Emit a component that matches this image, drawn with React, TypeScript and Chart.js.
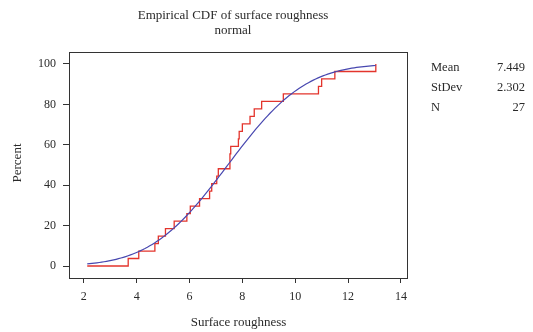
import React, { useEffect, useRef } from "react";
import { Chart, registerables } from "chart.js";

Chart.register(...registerables);

const titleLines = ["Empirical CDF of surface roughness", "normal"];
const xLabel = "Surface roughness";
const yLabel = "Percent";

// sorted sample values (read from the ECDF steps)
const roughness = [
  3.68, 4.08, 4.69, 4.82, 5.09, 5.42, 5.9, 6.03, 6.38, 6.76, 6.84, 7.03, 7.09,
  7.53, 7.53, 7.56, 7.85, 7.88, 8.0, 8.29, 8.45, 8.73, 9.55, 10.88, 11.0, 11.5, 13.05,
];
const rangeStart = 2.13;
const rangeEnd = 13.05;

const statNames = ["Mean", "StDev", "N"];
const statValues = ["7.449", "2.302", "27"];
const mean = 7.449;
const stdev = 2.302;

const xTicks = [2, 4, 6, 8, 10, 12, 14];
const yTicks = [0, 20, 40, 60, 80, 100];

const FONT = "'Liberation Serif', 'DejaVu Serif', serif";
const RED = "#e3342c";
const BLUE = "#4848b0";
const TEXT = "#2a2a2a";

function erf(x: number) {
  const s = x < 0 ? -1 : 1;
  x = Math.abs(x);
  const t = 1 / (1 + 0.3275911 * x);
  const y =
    1 -
    (((((1.061405429 * t - 1.453152027) * t) + 1.421413741) * t - 0.284496736) * t + 0.254829592) *
      t *
      Math.exp(-x * x);
  return s * y;
}

function normalCdf(x: number) {
  return 50 * (1 + erf((x - mean) / (stdev * Math.SQRT2)));
}

export default function App() {
  const ref = useRef<HTMLCanvasElement | null>(null);

  useEffect(() => {
    if (!ref.current) return;
    const n = roughness.length;
    const ecdf = [{ x: rangeStart, y: 0 }].concat(
      roughness.map((v, i) => ({ x: v, y: ((i + 1) / n) * 100 }))
    );
    const curve: { x: number; y: number }[] = [];
    const steps = 120;
    for (let i = 0; i <= steps; i++) {
      const x = rangeStart + ((rangeEnd - rangeStart) * i) / steps;
      curve.push({ x, y: normalCdf(x) });
    }

    const textPlugin = {
      id: "texts",
      afterDraw(chart: any) {
        const ctx = chart.ctx;
        const a = chart.chartArea;
        ctx.save();
        ctx.strokeStyle = "#333";
        ctx.lineWidth = 1;
        ctx.strokeRect(Math.round(a.left) + 0.5, Math.round(a.top) + 0.5, Math.round(a.right - a.left), Math.round(a.bottom - a.top));
        ctx.fillStyle = TEXT;
        ctx.textBaseline = "middle";
        ctx.textAlign = "center";
        ctx.font = `13px ${FONT}`;
        ctx.fillText(titleLines[0], 233, 16);
        ctx.fillText(titleLines[1], 233, 31);
        ctx.fillText(xLabel, 238.5, 323);
        ctx.save();
        ctx.translate(18, 163);
        ctx.rotate(-Math.PI / 2);
        ctx.fillText(yLabel, 0, 0);
        ctx.restore();
        ctx.font = `12.5px ${FONT}`;
        statNames.forEach((s, i) => {
          const y = 68 + i * 20;
          ctx.textAlign = "left";
          ctx.fillText(s, 431, y);
          ctx.textAlign = "right";
          ctx.fillText(statValues[i], 525, y);
        });
        ctx.restore();
      },
    };

    const chart = new Chart(ref.current, {
      type: "line",
      data: {
        datasets: [
          {
            data: curve,
            borderColor: BLUE,
            borderWidth: 1.2,
            pointRadius: 0,
            fill: false,
            tension: 0,
          },
          {
            data: ecdf,
            borderColor: RED,
            borderWidth: 1.3,
            pointRadius: 0,
            fill: false,
            stepped: "before",
          },
        ],
      },
      options: {
        animation: false,
        responsive: false,
        layout: { padding: { left: 0, top: 52, right: 126, bottom: 0 } },
        plugins: { legend: { display: false }, tooltip: { enabled: false }, title: { display: false } },
        scales: {
          x: {
            type: "linear",
            min: 1.44,
            max: 14.23,
            afterBuildTicks: (s: any) => {
              s.ticks = xTicks.map((v) => ({ value: v }));
            },
            afterFit: (s: any) => {
              s.height = 54;
            },
            grid: { drawOnChartArea: false, drawTicks: true, tickLength: 5, color: "#333" },
            border: { display: true, color: "#333" },
            ticks: { color: TEXT, font: { family: FONT, size: 12 }, padding: 7, maxRotation: 0 },
          },
          y: {
            type: "linear",
            min: -5.94,
            max: 105.94,
            afterBuildTicks: (s: any) => {
              s.ticks = yTicks.map((v) => ({ value: v }));
            },
            afterFit: (s: any) => {
              s.width = 69;
            },
            grid: { drawOnChartArea: false, drawTicks: true, tickLength: 6, color: "#333" },
            border: { display: true, color: "#333" },
            ticks: { color: TEXT, font: { family: FONT, size: 12 }, padding: 7 },
          },
        },
      },
      plugins: [textPlugin],
    } as any);
    return () => chart.destroy();
  }, []);

  return (
    <div style={{ position: "fixed", left: 0, top: 0, width: 533, height: 332, background: "#fff" }}>
      <canvas ref={ref} width={533} height={332} />
    </div>
  );
}
